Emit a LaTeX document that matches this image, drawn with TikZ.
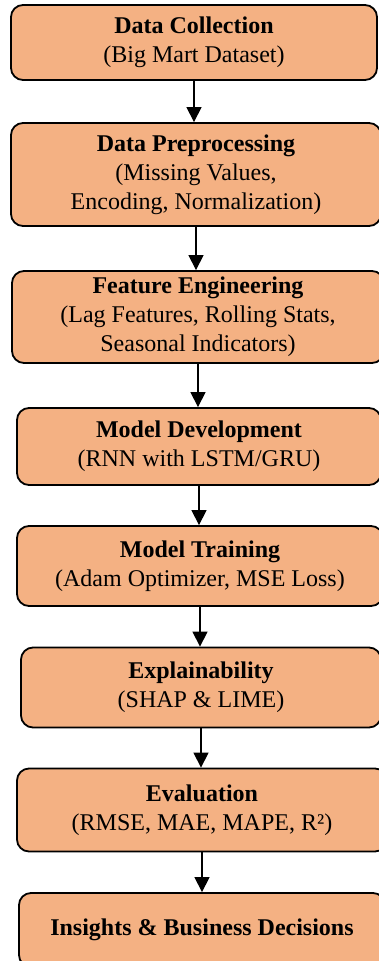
\documentclass[tikz,border=0pt]{standalone}
\usepackage{fontspec}
\setmainfont{Liberation Serif}
\usetikzlibrary{arrows.meta}

\definecolor{boxfill}{HTML}{F4B183}

\begin{document}
\begin{tikzpicture}[x=1pt, y=-1pt,
		stage/.style={rectangle, rounded corners=12pt, draw, line width=1.8pt, fill=boxfill,
			align=center, inner sep=0pt, font=\fontsize{24}{28.8}\selectfont},
		flow/.style={-{Triangle[length=15pt, width=15pt]}, line width=1.2pt}]
			\useasboundingbox (0, 0) rectangle (378, 961);
			\draw (194, 42.5) node [stage, minimum width=366pt, minimum height=75pt] (collect) {\textbf{Data Collection}\\(Big Mart Dataset)};
			\draw (196, 174.5) node [stage, minimum width=370pt, minimum height=103pt] (prep) {\textbf{Data Preprocessing}\\(Missing Values,\\Encoding, Normalization)};
			\draw (198, 317) node [stage, minimum width=372pt, minimum height=92pt] (feat) {\textbf{Feature Engineering}\\(Lag Features, Rolling Stats,\\Seasonal Indicators)};
			\draw (199, 446.5) node [stage, minimum width=364pt, minimum height=77pt] (model) {\textbf{Model Development}\\(RNN with LSTM/GRU)};
			\draw (200, 566) node [stage, minimum width=366pt, minimum height=80pt] (train) {\textbf{Model Training}\\(Adam Optimizer, MSE Loss)};
			\draw (201, 687.5) node [stage, minimum width=360pt, minimum height=80pt] (explain) {\textbf{Explainability}\\(SHAP \& LIME)};
			\draw (202, 810) node [stage, minimum width=370pt, minimum height=83pt] (eval) {\textbf{Evaluation}\\(RMSE, MAE, MAPE, R²)};
			\draw (202, 930) node [stage, minimum width=366pt, minimum height=74pt] (insight) {\textbf{Insights \& Business Decisions}};
			% straight down from each box to the next one
			\draw [flow] (collect.south) -- (collect.south |- prep.north);
			\draw [flow] (prep.south) -- (prep.south |- feat.north);
			\draw [flow] (feat.south) -- (feat.south |- model.north);
			\draw [flow] (model.south) -- (model.south |- train.north);
			\draw [flow] (train.south) -- (train.south |- explain.north);
			\draw [flow] (explain.south) -- (explain.south |- eval.north);
			\draw [flow] (eval.south) -- (eval.south |- insight.north);
		\end{tikzpicture}
\end{document}
